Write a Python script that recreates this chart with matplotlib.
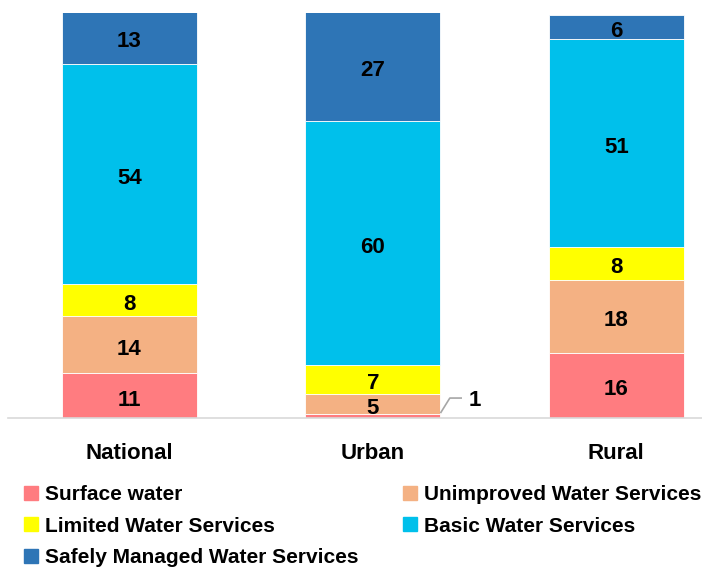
import numpy as np
import matplotlib.pyplot as plt
from matplotlib.patches import Patch

plt.rcParams['font.family'] = ['Liberation Sans', 'DejaVu Sans']
plt.rcParams['font.weight'] = 'bold'

areas = ['National', 'Urban', 'Rural']
services = ['Surface water', 'Unimproved Water Services', 'Limited Water Services',
            'Basic Water Services', 'Safely Managed Water Services']
colors = ['#FF7C80', '#F4B183', '#FFFF00', '#00C0EB', '#2E75B6']

surface = [11, 1, 16]
unimproved = [14, 5, 18]
limited = [8, 7, 8]
basic = [54, 60, 51]
safely = [13, 27, 6]
values = [surface, unimproved, limited, basic, safely]

fig = plt.figure(figsize=(7.02, 5.68), dpi=100)
ax = fig.add_axes([0, 150 / 568, 1, 405 / 568])

x = np.arange(len(areas))
width = 0.555
bottom = np.zeros(len(areas))
for name, vals, c in zip(services, values, colors):
    vals = np.array(vals, dtype=float)
    ax.bar(x, vals, width, bottom=bottom, color=c, label=name, edgecolor='white', linewidth=0.6)
    for i, v in enumerate(vals):
        if v >= 3:
            ax.text(x[i], bottom[i] + v / 2 - 0.5, f'{v:.0f}', ha='center', va='center_baseline',
                    fontsize=16, fontweight='bold')
    bottom += vals

# small urban slice gets a leader line
ax.plot([1 + width / 2, 1.316, 1.366], [1.2, 4.9, 4.9], color='#A6A6A6', lw=1.2,
        solid_capstyle='butt')
ax.text(1.395, 4.9, f'{surface[1]}', fontsize=16, fontweight='bold',
        va='center_baseline', ha='left')

ax.set_xlim(-0.532, 2.352)
ax.set_ylim(0, 99.5)
for s in ['top', 'right', 'left']:
    ax.spines[s].set_visible(False)
ax.spines['bottom'].set_color('#D9D9D9')
ax.spines['bottom'].set_linewidth(1.2)
ax.spines['bottom'].set_bounds(-0.5, 2.5)
ax.set_yticks([])
ax.set_xticks(x)
ax.set_xticklabels(areas, fontsize=16, fontweight='bold')
ax.tick_params(axis='x', length=0, pad=18)

order = [0, 2, 4, 1, 3]
handles = [Patch(color=colors[i]) for i in order]
labels = [services[i] for i in order]
fig.legend(handles, labels, ncol=2, loc='upper left', bbox_to_anchor=(24 / 702, 1 - 485 / 568),
           frameon=False, fontsize=15, handlelength=0.65, handleheight=0.65,
           handletextpad=0.35, columnspacing=2.15, labelspacing=0.6, borderaxespad=0, borderpad=0)

fig.savefig('out.png', dpi=100)
